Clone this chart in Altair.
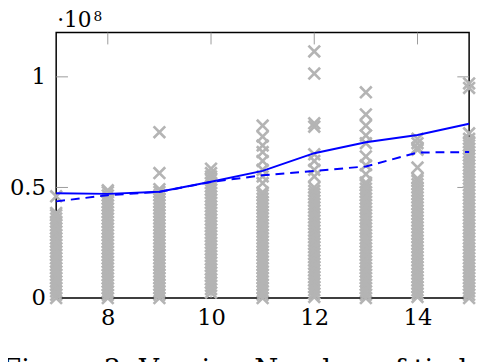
import altair as alt
import pandas as pd

# ---------------- data (values in units of 1e8) ----------------
n_values = [7, 8, 9, 10, 11, 12, 13, 14, 15]
mean_line = [0.474, 0.471, 0.481, 0.526, 0.575, 0.655, 0.704, 0.737, 0.788]
median_line = [0.437, 0.465, 0.480, 0.525, 0.555, 0.575, 0.595, 0.658, 0.660]

runs_7 = [0.0, 0.015, 0.03, 0.045, 0.06, 0.075, 0.09, 0.105, 0.12, 0.135, 0.15, 0.165, 0.18,
          0.195, 0.21, 0.225, 0.24, 0.255, 0.27, 0.285, 0.3, 0.315, 0.33, 0.345, 0.36, 0.375,
          0.385, 0.46]
runs_8 = [0.0, 0.014, 0.029, 0.044, 0.059, 0.074, 0.089, 0.104, 0.119, 0.134, 0.149, 0.164,
          0.179, 0.194, 0.209, 0.224, 0.239, 0.254, 0.269, 0.284, 0.299, 0.314, 0.329, 0.344,
          0.359, 0.374, 0.389, 0.404, 0.419, 0.434, 0.449, 0.464, 0.479, 0.487]
runs_9 = [0.0, 0.015, 0.03, 0.045, 0.06, 0.075, 0.09, 0.105, 0.12, 0.135, 0.15, 0.165, 0.18,
          0.195, 0.21, 0.225, 0.24, 0.255, 0.27, 0.285, 0.3, 0.315, 0.33, 0.345, 0.36, 0.375,
          0.39, 0.405, 0.42, 0.435, 0.45, 0.465, 0.48, 0.492, 0.565, 0.75]
runs_10 = [0.025, 0.04, 0.055, 0.07, 0.085, 0.1, 0.115, 0.13, 0.145, 0.16, 0.175, 0.19, 0.205,
           0.22, 0.235, 0.25, 0.265, 0.28, 0.295, 0.31, 0.325, 0.34, 0.355, 0.37, 0.385, 0.4,
           0.415, 0.43, 0.445, 0.46, 0.475, 0.49, 0.505, 0.52, 0.535, 0.55, 0.565, 0.585]
runs_11 = [0.0, 0.015, 0.03, 0.045, 0.06, 0.075, 0.09, 0.105, 0.12, 0.135, 0.15, 0.165, 0.18,
           0.195, 0.21, 0.225, 0.24, 0.255, 0.27, 0.285, 0.3, 0.315, 0.33, 0.345, 0.36, 0.375,
           0.39, 0.405, 0.42, 0.435, 0.45, 0.465, 0.478, 0.52, 0.55, 0.58, 0.62, 0.66, 0.69,
           0.73, 0.78]
runs_12 = [0.005, 0.02, 0.035, 0.05, 0.065, 0.08, 0.095, 0.11, 0.125, 0.14, 0.155, 0.17, 0.185,
           0.2, 0.215, 0.23, 0.245, 0.26, 0.275, 0.29, 0.305, 0.32, 0.335, 0.35, 0.365, 0.38,
           0.395, 0.41, 0.425, 0.44, 0.455, 0.47, 0.485, 0.5, 0.55, 0.58, 0.62, 0.65, 0.775,
           0.79, 1.015, 1.115]
runs_13 = [0.0, 0.015, 0.03, 0.045, 0.06, 0.075, 0.09, 0.105, 0.12, 0.135, 0.15, 0.165, 0.18,
           0.195, 0.21, 0.225, 0.24, 0.255, 0.27, 0.285, 0.3, 0.315, 0.33, 0.345, 0.36, 0.375,
           0.39, 0.405, 0.42, 0.435, 0.45, 0.465, 0.48, 0.495, 0.51, 0.522, 0.56, 0.6, 0.64,
           0.7, 0.735, 0.78, 0.83, 0.93]
runs_14 = [0.005, 0.02, 0.035, 0.05, 0.065, 0.08, 0.095, 0.11, 0.125, 0.14, 0.155, 0.17, 0.185,
           0.2, 0.215, 0.23, 0.245, 0.26, 0.275, 0.29, 0.305, 0.32, 0.335, 0.35, 0.365, 0.38,
           0.395, 0.41, 0.425, 0.44, 0.455, 0.47, 0.485, 0.5, 0.515, 0.53, 0.54, 0.59, 0.67,
           0.68, 0.7, 0.72]
runs_15 = [0.0, 0.015, 0.03, 0.045, 0.06, 0.075, 0.09, 0.105, 0.12, 0.135, 0.15, 0.165, 0.18,
           0.195, 0.21, 0.225, 0.24, 0.255, 0.27, 0.285, 0.3, 0.315, 0.33, 0.345, 0.36, 0.375,
           0.39, 0.405, 0.42, 0.435, 0.45, 0.465, 0.48, 0.495, 0.51, 0.525, 0.54, 0.555, 0.57,
           0.585, 0.6, 0.615, 0.63, 0.645, 0.66, 0.675, 0.69, 0.705, 0.72, 0.745, 0.95, 0.97]

x_ticks = [8, 10, 12, 14]
y_labels = [0, 0.5, 1]
y_ticks = [0.5, 1.0]
exponent_base = "·10"
exponent_power = "8"
caption = "Figure 3: Varying Number of tied"

# ---------------- tables ----------------
runs = [runs_7, runs_8, runs_9, runs_10, runs_11, runs_12, runs_13, runs_14, runs_15]
pts = pd.DataFrame([{"n": n, "t": v} for n, lst in zip(n_values, runs) for v in lst])
lines = pd.DataFrame({"n": n_values, "mean": mean_line, "median": median_line})
xt = pd.DataFrame({"n": x_ticks})
yt = pd.DataFrame({"t": y_ticks})

W, H = 420, 270
FONT = "DejaVu Serif"
xs = alt.Scale(domain=[7, 15], nice=False, zero=False)
ys = alt.Scale(domain=[0, 1.2], nice=False, zero=False)

x_axis = alt.Axis(values=x_ticks, title=None, domain=False, ticks=False, grid=False,
                  labelFont=FONT, labelFontSize=23, labelColor="black", labelPadding=9,
                  labelFlush=False, labelOverlap=False)
y_axis = alt.Axis(values=y_labels, format="~g", title=None, domain=False, ticks=False,
                  grid=False, labelFont=FONT, labelFontSize=23, labelColor="black",
                  labelPadding=11, labelFlush=False, labelOverlap=False)

X_PATH = "M-1,-1L1,1M1,-1L-1,1"
TICK = "#9a9a9a"

tick_b = alt.Chart(xt).mark_rule(color=TICK, strokeWidth=1).encode(
    x=alt.X("n:Q", scale=xs, axis=x_axis), y=alt.value(H), y2=alt.value(H - 12))
tick_t = alt.Chart(xt).mark_rule(color=TICK, strokeWidth=1).encode(
    x=alt.X("n:Q", scale=xs, axis=x_axis), y=alt.value(0), y2=alt.value(12))
tick_l = alt.Chart(yt).mark_rule(color=TICK, strokeWidth=1).encode(
    y=alt.Y("t:Q", scale=ys, axis=y_axis), x=alt.value(0), x2=alt.value(12))
tick_r = alt.Chart(yt).mark_rule(color=TICK, strokeWidth=1).encode(
    y=alt.Y("t:Q", scale=ys, axis=y_axis), x=alt.value(W - 12), x2=alt.value(W))

points = alt.Chart(pts).mark_point(
    shape=X_PATH, filled=False, color="#b4b4b4", strokeWidth=2.7, size=140, opacity=1
).encode(
    x=alt.X("n:Q", scale=xs, axis=x_axis),
    y=alt.Y("t:Q", scale=ys, axis=y_axis),
)

mean_l = alt.Chart(lines).mark_line(color="#0000ff", strokeWidth=2).encode(
    x=alt.X("n:Q", scale=xs, axis=x_axis), y=alt.Y("mean:Q", scale=ys, axis=y_axis))
median_l = alt.Chart(lines).mark_line(color="#0000ff", strokeWidth=2, strokeDash=[9, 6]).encode(
    x=alt.X("n:Q", scale=xs, axis=x_axis), y=alt.Y("median:Q", scale=ys, axis=y_axis))

exp_base = alt.Chart(pd.DataFrame({"s": [exponent_base]})).mark_text(
    align="left", baseline="alphabetic", font=FONT, fontSize=22, color="black"
).encode(text="s:N", x=alt.value(1), y=alt.value(-6))
exp_pow = alt.Chart(pd.DataFrame({"s": [exponent_power]})).mark_text(
    align="left", baseline="alphabetic", font=FONT, fontSize=14, color="black"
).encode(text="s:N", x=alt.value(38), y=alt.value(-12))
cap = alt.Chart(pd.DataFrame({"s": [caption]})).mark_text(
    align="left", baseline="alphabetic", font=FONT, fontSize=28, color="black"
).encode(text="s:N", x=alt.value(-55), y=alt.value(352))

chart = alt.layer(
    tick_b, tick_t, tick_l, tick_r, points, mean_l, median_l, exp_base, exp_pow, cap
).properties(
    width=W, height=H,
    padding={"left": 49, "top": 22, "right": 7, "bottom": 62},
    autosize=alt.AutoSizeParams(type="none"),
    background="white",
).configure_view(stroke="black", strokeWidth=1.5)

chart.save("out.html", embed_options={"renderer": "svg", "actions": False})
